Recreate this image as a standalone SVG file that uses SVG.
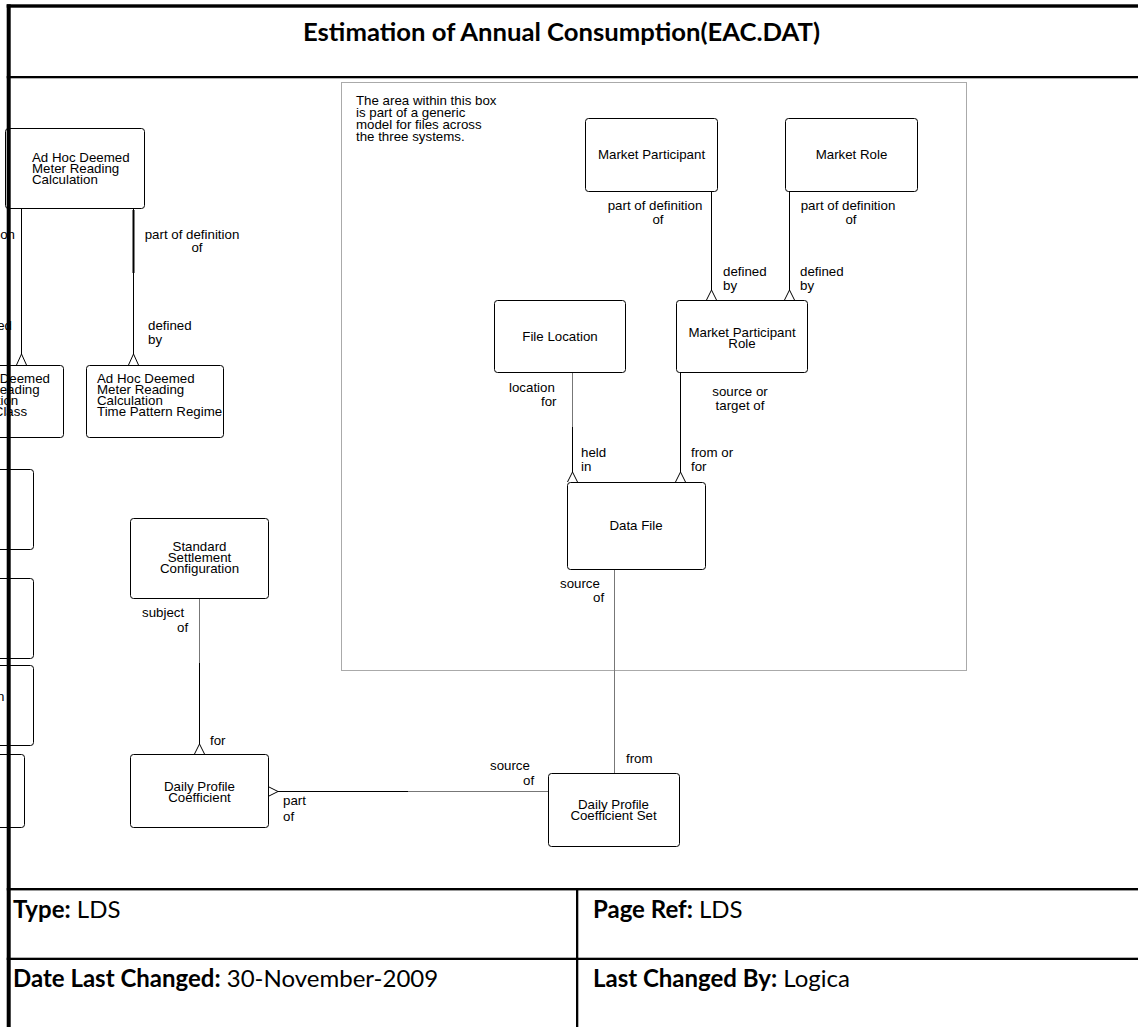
<svg xmlns="http://www.w3.org/2000/svg" width="1138" height="1027" viewBox="0 0 1138 1027">
<style>
.bg{fill:#fff}
.box{fill:#fff;stroke:#000;stroke-width:1}
.t{font-family:"Liberation Sans",Arial,sans-serif;font-size:13.3px;fill:#000}
.m{text-anchor:middle}
.e{text-anchor:end}
.c{fill:none;stroke:#000;stroke-width:1}
.g{stroke:#777}
.dot{fill:none;stroke:#555;stroke-width:1;stroke-dasharray:1 1}
.fr{fill:#000}
.h{font-family:Lato,"Open Sans",sans-serif;fill:#000}
.hb{font-weight:bold}
</style>
<rect class="bg" x="0" y="0" width="1138" height="1027"/>

<g id="generic-area">
<rect class="dot" x="341.5" y="82.5" width="625" height="588"/>
<text class="t"><tspan x="356" y="105">The area within this box</tspan><tspan x="356" y="117">is part of a generic</tspan><tspan x="356" y="129">model for files across</tspan><tspan x="356" y="141">the three systems.</tspan></text>
</g>

<g id="connectors">
<path class="c" d="M21.5 208V354M16.5 365L21.5 354L26.5 365"/>
<text class="t e" x="15" y="239">part of definition</text>
<text class="t e" x="12" y="330">defined</text>
<path class="c" d="M133.5 208V354M128.5 365L133.5 354L138.5 365"/>
<path class="c" style="stroke-width:2" d="M133.5 210V273"/>
<text class="t m" x="192" y="239">part of definition</text>
<text class="t m" x="197" y="252">of</text>
<text class="t" x="148" y="330">defined</text>
<text class="t" x="148" y="344">by</text>
<path class="c" d="M711.5 191V290M706.5 300L711.5 290L716.5 300"/>
<text class="t m" x="655" y="210">part of definition</text>
<text class="t m" x="658" y="224">of</text>
<text class="t" x="723" y="276">defined</text>
<text class="t" x="723" y="290">by</text>
<path class="c" d="M789.5 191V290M784.5 300L789.5 290L794.5 300"/>
<text class="t m" x="848" y="210">part of definition</text>
<text class="t m" x="851" y="224">of</text>
<text class="t" x="800" y="276">defined</text>
<text class="t" x="800" y="290">by</text>
<path class="c g" d="M572.5 372V427"/>
<path class="c" d="M572.5 427V472M567.5 482L572.5 472L577.5 482"/>
<text class="t" x="509" y="392">location</text>
<text class="t" x="541" y="406">for</text>
<text class="t" x="581" y="457">held</text>
<text class="t" x="581" y="471">in</text>
<path class="c" d="M680.5 372V472M675.5 482L680.5 472L685.5 482"/>
<text class="t m" x="740" y="396">source or</text>
<text class="t m" x="740" y="410">target of</text>
<text class="t" x="691" y="457">from or</text>
<text class="t" x="691" y="471">for</text>
<path class="c g" d="M614.5 569V773"/>
<text class="t" x="560" y="588">source</text>
<text class="t" x="593" y="602">of</text>
<text class="t" x="626" y="763">from</text>
<path class="c g" d="M199.5 598V663"/>
<path class="c" d="M199.5 663V744M194.5 754L199.5 744L204.5 754"/>
<text class="t" x="142" y="617">subject</text>
<text class="t" x="177" y="632">of</text>
<text class="t" x="210" y="745">for</text>
<path class="c g" d="M548 791.5H408"/>
<path class="c" d="M408 791.5H278M268 786.5L278 791.5L268 796.5"/>
<text class="t" x="490" y="770">source</text>
<text class="t" x="523" y="785">of</text>
<text class="t" x="283" y="805">part</text>
<text class="t" x="283" y="821">of</text>
</g>

<g id="node-adhoc">
<rect class="box" x="5.5" y="128.5" width="139" height="80" rx="3"/>
<text class="t"><tspan x="32" y="162">Ad Hoc Deemed</tspan><tspan x="32" y="173">Meter Reading</tspan><tspan x="32" y="184">Calculation</tspan></text>
</g>
<g id="node-adhoc-profile-class">
<rect class="box" x="-60.5" y="365.5" width="124" height="72" rx="3"/>
<text class="t"><tspan x="-47.6" y="383">Ad Hoc Deemed</tspan><tspan x="-47.6" y="394">Meter Reading</tspan><tspan x="-47.6" y="405">Calculation</tspan><tspan x="-47.6" y="416">Profile Class</tspan></text>
</g>
<g id="node-adhoc-tpr">
<rect class="box" x="86.5" y="365.5" width="137" height="72" rx="3"/>
<text class="t"><tspan x="97" y="383">Ad Hoc Deemed</tspan><tspan x="97" y="394">Meter Reading</tspan><tspan x="97" y="405">Calculation</tspan><tspan x="97" y="416">Time Pattern Regime</tspan></text>
</g>
<g id="node-left-1"><rect class="box" x="-80.5" y="469.5" width="114" height="80" rx="3"/></g>
<g id="node-left-2"><rect class="box" x="-80.5" y="578.5" width="114" height="80" rx="3"/></g>
<g id="node-left-3"><rect class="box" x="-80.5" y="665.5" width="114" height="80" rx="3"/>
<text class="t" x="-3" y="701">n</text></g>
<g id="node-left-4"><rect class="box" x="-80.5" y="754.5" width="105" height="73" rx="3"/></g>

<g id="node-ssc">
<rect class="box" x="130.5" y="518.5" width="138" height="80" rx="3"/>
<text class="t m"><tspan x="199.5" y="551">Standard</tspan><tspan x="199.5" y="562">Settlement</tspan><tspan x="199.5" y="573">Configuration</tspan></text>
</g>
<g id="node-dpc">
<rect class="box" x="130.5" y="754.5" width="138" height="73" rx="3"/>
<text class="t m"><tspan x="199.5" y="791">Daily Profile</tspan><tspan x="199.5" y="802">Coefficient</tspan></text>
</g>
<g id="node-mp">
<rect class="box" x="585.5" y="118.5" width="132" height="73" rx="3"/>
<text class="t m" x="651.5" y="159">Market Participant</text>
</g>
<g id="node-mr">
<rect class="box" x="785.5" y="118.5" width="132" height="73" rx="3"/>
<text class="t m" x="851.5" y="159">Market Role</text>
</g>
<g id="node-mpr">
<rect class="box" x="676.5" y="300.5" width="131" height="72" rx="3"/>
<text class="t m"><tspan x="742" y="337">Market Participant</tspan><tspan x="742" y="348">Role</tspan></text>
</g>
<g id="node-fl">
<rect class="box" x="494.5" y="300.5" width="131" height="72" rx="3"/>
<text class="t m" x="560" y="341">File Location</text>
</g>
<g id="node-df">
<rect class="box" x="567.5" y="482.5" width="138" height="87" rx="3"/>
<text class="t m" x="636" y="530">Data File</text>
</g>
<g id="node-dpcs">
<rect class="box" x="548.5" y="773.5" width="131" height="73" rx="3"/>
<text class="t m"><tspan x="613.5" y="809">Daily Profile</tspan><tspan x="613.5" y="820">Coefficient Set</tspan></text>
</g>

<g id="frame">
<rect class="fr" x="6.7" y="4.3" width="1131.3" height="3.4"/>
<rect class="fr" x="6.7" y="76" width="1131.3" height="2.3"/>
<rect class="fr" x="6.7" y="4.3" width="4" height="1022.7"/>
<rect class="fr" x="6.7" y="888" width="1131.3" height="2.4"/>
<rect class="fr" x="6.7" y="957.7" width="1131.3" height="2.3"/>
<rect class="fr" x="576" y="889" width="2.3" height="138"/>
<text class="h hb" x="303" y="41" font-size="24" textLength="517" lengthAdjust="spacingAndGlyphs">Estimation of Annual Consumption(EAC.DAT)</text>
<text class="h" x="13" y="918" font-size="24"><tspan class="hb">Type:</tspan> LDS</text>
<text class="h" x="593" y="918" font-size="24"><tspan class="hb">Page Ref:</tspan> LDS</text>
<text class="h" x="13" y="987" font-size="24"><tspan class="hb">Date Last Changed:</tspan> 30-November-2009</text>
<text class="h" x="593" y="987" font-size="24"><tspan class="hb">Last Changed By:</tspan> Logica</text>
</g>
</svg>
